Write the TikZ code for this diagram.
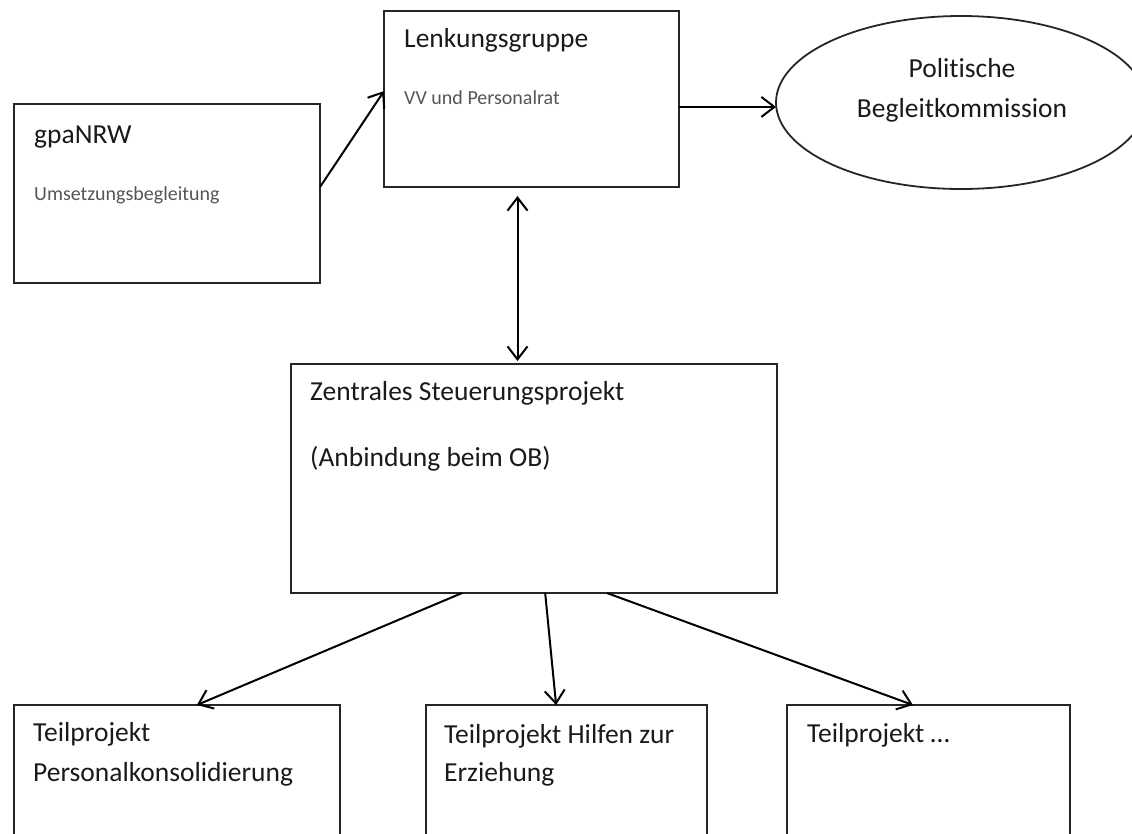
\documentclass[tikz,border=0pt]{standalone}
\usepackage{fontspec}
\setmainfont{Carlito}[Ligatures=NoCommon]
\usetikzlibrary{arrows.meta,shapes.geometric,calc}
\definecolor{linec}{HTML}{262626}
\definecolor{mainc}{HTML}{1A1A1A}
\definecolor{subc}{HTML}{555555}
\begin{document}
\begin{tikzpicture}[x=1pt,y=-1pt,
  box/.style={draw=linec, line width=2pt, rectangle, inner sep=0pt, outer sep=0pt, anchor=north west},
  oval/.style={draw=linec, line width=1.8pt, ellipse, inner sep=0pt, outer sep=0pt},
  maintext/.style={anchor=base west, inner sep=0pt, text=mainc, font=\fontsize{27.5}{33}\selectfont},
  ctrtext/.style={anchor=base, inner sep=0pt, text=mainc, font=\fontsize{27.5}{33}\selectfont},
  subtext/.style={anchor=base west, inner sep=0pt, text=subc, font=\fontsize{20}{24}\selectfont},
  conn/.style={draw=black, line width=2pt, -{Straight Barb[length=13pt,width=20pt,line width=2pt]}},
  dconn/.style={draw=black, line width=2pt, {Straight Barb[length=13pt,width=20pt,line width=2pt]}-{Straight Barb[length=13pt,width=20pt,line width=2pt]}}]
\useasboundingbox (0,0) rectangle (1132,833);
\clip (0,0) rectangle (1132,833);

% boxes
\node[box, minimum width=306pt, minimum height=179pt] (gpa) at (14,104) {};
\node[box, minimum width=295pt, minimum height=176pt] (lenk) at (384,11) {};
\node[oval, minimum width=370pt, minimum height=173pt] (pbk) at (961,102.5) {};
\node[box, minimum width=486pt, minimum height=229pt] (zsp) at (291,364) {};
\node[box, minimum width=326pt, minimum height=160pt] (tp1) at (14,705) {};
\node[box, minimum width=281pt, minimum height=160pt] (tp2) at (426,705) {};
\node[box, minimum width=283pt, minimum height=160pt] (tp3) at (787,705) {};

% texts
\node[maintext] (gpaT) at (34,143) {gpaNRW};
\node[subtext] (gpaS) at (34,200) {Umsetzungsbegleitung};
\node[maintext] (lenkT) at (404,47) {Lenkungsgruppe};
\node[subtext] (lenkS) at (404,104) {VV und Personalrat};
\node[ctrtext] (pbkT1) at (962,77) {Politische};
\node[ctrtext] (pbkT2) at (962,117) {Begleitkommission};
\node[maintext] (zspT1) at (310,400) {Zentrales Steuerungsprojekt};
\node[maintext] (zspT2) at (310,466) {(Anbindung beim OB)};
\node[maintext] (tp1T1) at (33,741) {Teilprojekt};
\node[maintext] (tp1T2) at (33,781) {Personalkonsolidierung};
\node[maintext] (tp2T1) at (444,743) {Teilprojekt Hilfen zur};
\node[maintext] (tp2T2) at (444,781) {Erziehung};
\node[maintext] (tp3T1) at (807,742) {Teilprojekt \dots};

% connector points
\coordinate (gpaOut) at ($(gpa.north east)!0.464!(gpa.south east)$);
\coordinate (lenkIn) at ($(lenk.north west)!0.455!(lenk.south west)$);
\coordinate (lenkOut) at ($(lenk.north east)!0.545!(lenk.south east)$);
\coordinate (dTop) at ($(lenk.south)+(-14,9)$);
\coordinate (dBot) at ($(dTop |- zsp.north)+(0,-3)$);
\coordinate (z1) at ($(zsp.south west)!0.352!(zsp.south east)$);
\coordinate (z2) at ($(zsp.south west)!0.523!(zsp.south east)$);
\coordinate (z3) at ($(zsp.south west)!0.650!(zsp.south east)$);
\coordinate (t1) at ($(tp1.north west)!0.561!(tp1.north east)$);
\coordinate (t2) at ($(tp2.north west)!0.463!(tp2.north east)$);
\coordinate (t3) at ($(tp3.north west)!0.445!(tp3.north east)$);

% connectors
\draw[conn] (gpaOut) -- (lenkIn);
\draw[conn] (lenkOut) -- (lenkOut -| pbk.west);
\draw[dconn] (dTop) -- (dBot);
\draw[conn] (z1) -- (t1);
\draw[conn] (z2) -- (t2);
\draw[conn] (z3) -- (t3);
\end{tikzpicture}
\end{document}
